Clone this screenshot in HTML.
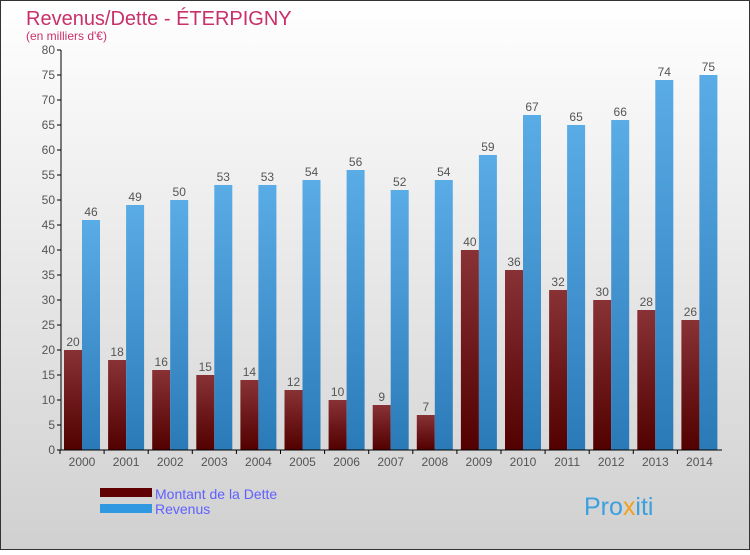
<!DOCTYPE html>
<html><head><meta charset="utf-8"><style>
body{margin:0}
#c{width:750px;height:550px;position:relative;font-family:"Liberation Sans",sans-serif;}
</style></head><body>
<div id="c">
<svg id="s" width="750" height="550" xmlns="http://www.w3.org/2000/svg">
<defs>
<linearGradient id="bg" x1="0" y1="0" x2="0" y2="1"><stop offset="0" stop-color="#ffffff"/><stop offset="1" stop-color="#d0d0d0"/></linearGradient>
<linearGradient id="gd" x1="0" y1="0" x2="0" y2="1"><stop offset="0" stop-color="#883236"/><stop offset="1" stop-color="#520000"/></linearGradient>
<linearGradient id="gr" x1="0" y1="0" x2="0" y2="1"><stop offset="0" stop-color="#5aace6"/><stop offset="1" stop-color="#2a7ab8"/></linearGradient>
</defs>
<rect x="0.5" y="0.5" width="749" height="549" fill="url(#bg)" stroke="#333"/>
<text x="26" y="25" font-size="20" fill="#c8306a">Revenus/Dette - ÉTERPIGNY</text>
<text x="26" y="40" font-size="12" fill="#c8306a">(en milliers d'€)</text>
<g id="plot"></g>
<rect x="100" y="488" width="52" height="9" fill="#600000"/>
<rect x="100" y="504" width="52" height="9" fill="#3098e0"/>
<text x="155" y="499" font-size="14" fill="#6060ff">Montant de la Dette</text>
<text x="155" y="514" font-size="14" fill="#6060ff">Revenus</text>
<text x="584" y="515" font-size="25" fill="#3aa0e0">Pro<tspan fill="#f0a020">x</tspan>iti</text>
</svg>
</div>
<script>
const years=["2000","2001","2002","2003","2004","2005","2006","2007","2008","2009","2010","2011","2012","2013","2014"];
const dette=[20,18,16,15,14,12,10,9,7,40,36,32,30,28,26];
const revenus=[46,49,50,53,53,54,56,52,54,59,67,65,66,74,75];
const yTicks=[0,5,10,15,20,25,30,35,40,45,50,55,60,65,70,75,80];
const NS="http://www.w3.org/2000/svg";
const g=document.getElementById('plot');
const y=v=>450-v*5;
const xc=i=>82+i*44.1;
function mk(t,a,txt){const e=document.createElementNS(NS,t);for(const k in a)e.setAttribute(k,a[k]);if(txt!==undefined)e.textContent=txt;g.appendChild(e);return e;}
yTicks.forEach(t=>{
 const l=mk('line',{x1:57,x2:61,y1:y(t),y2:y(t),stroke:'#000'});
 
 
 const tx=mk('text',{x:55,y:y(t)+4,'font-size':12,fill:'#555','text-anchor':'end'},t);
 
 
});
years.forEach((yr,i)=>{
 const c=xc(i);
 const b1=mk('rect',{x:c-18,y:y(dette[i]),width:18,height:dette[i]*5,fill:'url(#gd)'});
 
 
 const b2=mk('rect',{x:c,y:y(revenus[i]),width:18,height:revenus[i]*5,fill:'url(#gr)'});
 
 
 const t1=mk('text',{x:c-9,y:y(dette[i])-4,'font-size':12,fill:'#555','text-anchor':'middle'},dette[i]);
 
 
 const t2=mk('text',{x:c+9,y:y(revenus[i])-4,'font-size':12,fill:'#555','text-anchor':'middle'},revenus[i]);
 
 
 const tk=mk('line',{x1:c-22,x2:c-22,y1:450,y2:454,stroke:'#000'});
 
 
 const xl=mk('text',{x:c,y:466,'font-size':12,fill:'#555','text-anchor':'middle'},yr);
 
 
});
const ya=mk('line',{x1:61,x2:61,y1:50,y2:450,stroke:'#000'});


const xa=mk('line',{x1:61,x2:722,y1:450,y2:450,stroke:'#000'});


</script>
</body></html>
